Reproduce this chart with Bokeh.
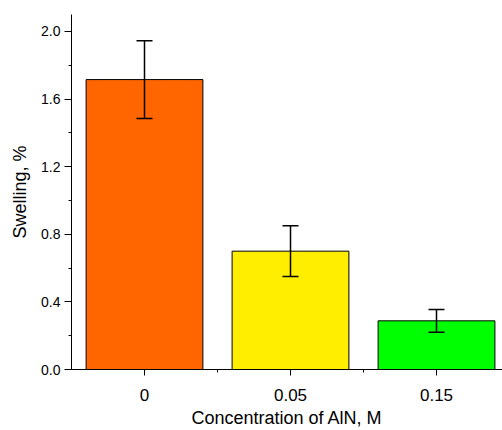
from bokeh.plotting import figure
from bokeh.models import (ColumnDataSource, Range1d, FixedTicker, SingleIntervalTicker,
                          PrintfTickFormatter, Whisker, TeeHead)
from bokeh.embed import file_html
from bokeh.resources import INLINE

# data
categories = ["0", "0.05", "0.15"]
swelling = [1.715, 0.70, 0.288]
errors = [0.23, 0.15, 0.067]
bar_colors = ["#FF6600", "#FFEE00", "#00FF00"]
x_title = "Concentration of AlN, M"
y_title = "Swelling, %"

xpos = [i + 1 for i in range(len(categories))]
src = ColumnDataSource(dict(
    x=xpos, top=swelling,
    upper=[v + e for v, e in zip(swelling, errors)],
    lower=[v - e for v, e in zip(swelling, errors)],
    color=bar_colors,
))

FONT = "Liberation Sans"

p = figure(width=502, height=430, output_backend="svg", toolbar_location=None,
           x_range=Range1d(0.5, 3.452), y_range=Range1d(0, 2.1),
           min_border_left=71, min_border_top=14, min_border_right=0, min_border_bottom=61)
p.outline_line_color = None
p.xgrid.visible = False
p.ygrid.visible = False
p.background_fill_color = "white"
p.border_fill_color = "white"

p.vbar(x="x", top="top", width=0.8, bottom=0, source=src,
       fill_color="color", line_color="black", line_width=1)

w = Whisker(base="x", upper="upper", lower="lower", source=src,
            line_color="black", line_width=1.5, level="overlay",
            upper_head=TeeHead(size=16, line_color="black", line_width=1.5),
            lower_head=TeeHead(size=16, line_color="black", line_width=1.5))
p.add_layout(w)

# x axis
xa = p.xaxis[0]
xa.ticker = FixedTicker(ticks=xpos, minor_ticks=[x + 0.5 for x in xpos])
xa.major_label_overrides = {x: c for x, c in zip(xpos, categories)}
xa.axis_label = x_title
xa.axis_label_text_font = FONT
xa.axis_label_text_font_size = "18px"
xa.axis_label_text_font_style = "normal"
xa.axis_label_text_color = "black"
xa.axis_label_standoff = 4
xa.major_label_text_font = FONT
xa.major_label_text_font_size = "17px"
xa.major_label_text_color = "black"
xa.major_label_standoff = 13
xa.major_tick_in = 0
xa.major_tick_out = 6
xa.minor_tick_in = 0
xa.minor_tick_out = 3
xa.axis_line_color = "black"
xa.major_tick_line_color = "black"
xa.minor_tick_line_color = "black"

# y axis
ya = p.yaxis[0]
ya.ticker = SingleIntervalTicker(interval=0.4, num_minor_ticks=2)
ya.formatter = PrintfTickFormatter(format="%.1f")
ya.axis_label = y_title
ya.axis_label_text_font = FONT
ya.axis_label_text_font_size = "18px"
ya.axis_label_text_font_style = "normal"
ya.axis_label_text_color = "black"
ya.axis_label_standoff = 8
ya.major_label_text_font = FONT
ya.major_label_text_font_size = "14px"
ya.major_label_text_color = "black"
ya.major_label_standoff = 4
ya.major_tick_in = 0
ya.major_tick_out = 7
ya.minor_tick_in = 0
ya.minor_tick_out = 3
ya.axis_line_color = "black"
ya.major_tick_line_color = "black"
ya.minor_tick_line_color = "black"

open("out.html", "w").write(file_html(p, INLINE))
